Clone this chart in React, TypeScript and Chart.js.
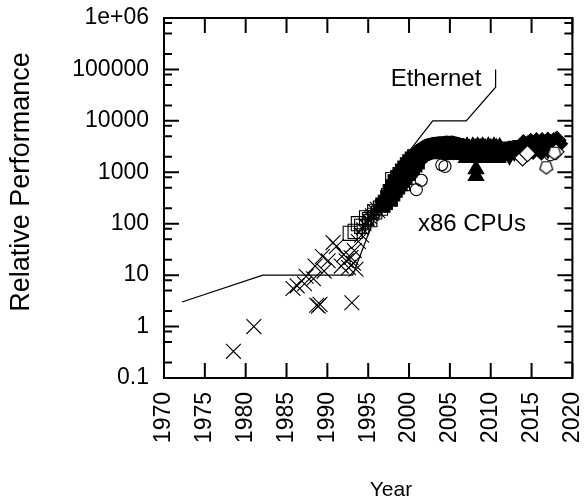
import React, { useEffect, useRef } from 'react';
import { Chart, registerables } from 'chart.js';

Chart.register(...registerables);

// ---- tick values ----
const xTickValues = [1970, 1975, 1980, 1985, 1990, 1995, 2000, 2005, 2010, 2015, 2020];
const yTickValues = [0.1, 1, 10, 100, 1000, 10000, 100000, 1000000];
const yMinorFactors = [2, 5, 8];

// ---- series (year, relative performance) ----
const crossPts: [number, number][] = [
  [1978.5, 0.33], [1981.0, 1.0], [1985.8, 5.5], [1986.3, 6.2], [1987.2, 6.8], [1987.4, 9.5],
  [1988.3, 8.5], [1988.5, 15], [1988.7, 2.6], [1988.9, 2.5], [1989.1, 2.7], [1989.4, 23],
  [1989.6, 12], [1990.1, 19], [1990.7, 43], [1991.1, 36], [1991.7, 15], [1992.0, 25],
  [1992.3, 19], [1992.6, 14], [1992.9, 22], [1993.0, 2.9], [1993.2, 17], [1993.5, 13],
  [1993.3, 30], [1993.8, 45], [1994.2, 60],
];
const openSquarePts: [number, number][] = [
  [1992.8, 65], [1993.4, 71], [1993.8, 100], [1994.2, 89], [1994.8, 130], [1995.2, 120],
  [1995.8, 170], [1996.5, 200], [1997.5, 350], [1998.0, 720], [1998.8, 780], [1999.2, 600],
];
const starPts: [number, number][] = [
  [1994.3, 80], [1994.6, 95], [1995.0, 120], [1995.3, 130], [1995.4, 150], [1995.7, 180],
  [1996.0, 200], [1996.3, 170], [1996.6, 220],
];
const filledSquarePts: [number, number][] = [
  [1996.8, 230], [1997.1, 260], [1997.4, 320], [1997.7, 300], [1997.7, 420], [1998.0, 380],
  [1998.0, 520], [1998.3, 450], [1998.3, 650], [1998.6, 520], [1998.6, 780], [1998.9, 600],
  [1998.9, 900], [1999.2, 700], [1999.2, 1050], [1999.5, 800], [1999.5, 1200], [1999.8, 950],
  [1999.8, 1400], [2000.1, 1100], [2000.1, 1600], [2000.4, 1250], [2000.4, 1800], [2000.7, 1400],
  [2000.7, 2000], [2001.0, 1600],
];
const filledCirclePts: [number, number][] = [
  [2001.0, 2300], [2001.3, 1800], [2001.3, 2600], [2001.6, 2000], [2001.6, 2800], [2001.9, 2200],
  [2001.9, 3000], [2002.2, 2300], [2002.2, 3200], [2002.5, 2400], [2002.5, 3300], [2002.8, 2500],
  [2002.8, 3400], [2003.1, 2500], [2003.1, 3500], [2003.4, 2500], [2003.4, 3500], [2003.7, 2500],
  [2003.7, 3600], [2004.0, 2500], [2004.0, 3600], [2004.3, 2400], [2004.3, 3600], [2004.6, 2500],
  [2004.6, 3700], [2004.9, 2400], [2004.9, 3600], [2005.2, 2500], [2005.2, 3700], [2005.5, 2400],
  [2005.5, 3600], [2005.8, 2500], [2005.8, 3500], [2006.1, 2400], [2006.1, 3400], [2006.4, 2400],
  [2006.4, 3300],
];
const openCirclePts: [number, number][] = [
  [1999.5, 900], [2000.9, 460], [2001.5, 700], [2004.0, 1400], [2004.4, 1300], [2017.3, 2200],
];
const trianglePts: [number, number][] = [
  [2006.7, 3000], [2006.9, 2300], [2007.0, 1900], [2007.1, 3200], [2007.4, 2900], [2007.5, 2400],
  [2007.6, 1900], [2007.8, 3200], [2008.1, 3000], [2008.1, 2400], [2008.3, 1900], [2008.4, 3200],
  [2008.7, 3000], [2008.8, 2400], [2008.9, 1900], [2009.0, 3200], [2009.3, 3000], [2009.4, 2400],
  [2009.5, 1900], [2009.7, 3200], [2010.0, 3000], [2010.1, 2400], [2010.2, 1900], [2010.4, 3200],
  [2010.7, 3000], [2010.8, 2400], [2010.9, 1900], [2011.1, 3100], [2011.3, 2500],
  [2008.2, 850], [2008.2, 1150],
];
const invTrianglePts: [number, number][] = [
  [2011.5, 2900], [2011.8, 2500], [2012.0, 3100], [2012.3, 2200], [2012.6, 3000], [2012.9, 2600],
  [2013.2, 3200], [2013.5, 2700], [2013.8, 3300], [2014.2, 2900], [2015.0, 3000], [2016.0, 3100],
  [2017.0, 2900], [2018.0, 3300],
];
const filledDiamondPts: [number, number][] = [
  [2014.0, 3600], [2014.5, 3400], [2014.9, 3800], [2015.3, 3300], [2015.6, 3900], [2016.0, 3500],
  [2016.3, 3900], [2016.7, 3400], [2017.0, 4000], [2017.4, 3500], [2017.7, 3900], [2018.1, 4200],
  [2018.3, 3600], [2015.2, 2700], [2016.2, 2600], [2017.6, 2900],
];
const openDiamondPts: [number, number][] = [
  [2013.9, 1900], [2014.5, 2300], [2018.0, 2500],
];
const pentagonPts: [number, number][] = [
  [2016.8, 1250], [2017.8, 2400],
];
const ethernetPts: [number, number][] = [
  [1972.2, 3], [1982.1, 10], [1993.1, 10], [1995.5, 100], [1998.0, 1000], [2002.9, 10000],
  [2007.0, 10000], [2010.6, 45000], [2010.6, 100000],
];

// annotation anchors in data units
const ethernetLabel = { text: 'Ethernet', x: 2003.3, y: 65000 };
const cpuLabel = { text: 'x86 CPUs', x: 2007.7, y: 96 };

const FONT = "'Liberation Sans', Arial, Helvetica, sans-serif";

const toXY = (pts: [number, number][]) => pts.map(([x, y]) => ({ x, y }));

function pentagonCanvas(size: number): HTMLCanvasElement {
  const c = document.createElement('canvas');
  c.width = size;
  c.height = size;
  const g = c.getContext('2d')!;
  const r = size / 2 - 1.2;
  g.beginPath();
  for (let i = 0; i < 5; i++) {
    const ang = Math.PI / 2 + (i * 2 * Math.PI) / 5;
    const px = size / 2 + r * Math.cos(ang);
    const py = size / 2 - r * Math.sin(ang) * -1;
    if (i === 0) g.moveTo(px, py);
    else g.lineTo(px, py);
  }
  g.closePath();
  g.fillStyle = '#fff';
  g.fill();
  g.strokeStyle = '#000';
  g.lineWidth = 1.2;
  g.stroke();
  return c;
}

const zeroPad = (s: any) => {
  s.paddingLeft = 0;
  s.paddingRight = 0;
  s.paddingTop = 0;
  s.paddingBottom = 0;
};

const framePlugin = {
  id: 'gnuFrame',
  afterDraw(chart: any) {
    const { ctx, chartArea: a, scales } = chart;
    const xs = scales.x;
    const ys = scales.y;
    ctx.save();
    ctx.strokeStyle = '#000';
    ctx.lineWidth = 2;
    ctx.beginPath();
    xTickValues.forEach((v) => {
      const px = xs.getPixelForValue(v);
      ctx.moveTo(px, a.bottom);
      ctx.lineTo(px, a.bottom - 15);
      ctx.moveTo(px, a.top);
      ctx.lineTo(px, a.top + 15);
    });
    yTickValues.forEach((v, i) => {
      const py = ys.getPixelForValue(v);
      ctx.moveTo(a.left, py);
      ctx.lineTo(a.left + 15, py);
      ctx.moveTo(a.right, py);
      ctx.lineTo(a.right - 15, py);
      if (i < yTickValues.length - 1) {
        yMinorFactors.forEach((f) => {
          const pm = ys.getPixelForValue(v * f);
          ctx.moveTo(a.left, pm);
          ctx.lineTo(a.left + 8, pm);
          ctx.moveTo(a.right, pm);
          ctx.lineTo(a.right - 8, pm);
        });
      }
    });
    ctx.stroke();
    ctx.strokeRect(a.left, a.top, a.right - a.left, a.bottom - a.top);

    ctx.fillStyle = '#000';
    ctx.textAlign = 'center';
    ctx.textBaseline = 'middle';
    ctx.font = `24px ${FONT}`;
    ctx.fillText(ethernetLabel.text, xs.getPixelForValue(ethernetLabel.x), ys.getPixelForValue(ethernetLabel.y));
    ctx.fillText(cpuLabel.text, xs.getPixelForValue(cpuLabel.x), ys.getPixelForValue(cpuLabel.y));

    // axis titles
    ctx.font = `21px ${FONT}`;
    ctx.fillText('Year', 391, 490);
    ctx.save();
    ctx.translate(22, 182);
    ctx.rotate(-Math.PI / 2);
    ctx.font = `27px ${FONT}`;
    ctx.fillText('Relative Performance', 0, 0);
    ctx.restore();
    ctx.restore();
  },
};

export default function App() {
  const ref = useRef<HTMLCanvasElement | null>(null);

  useEffect(() => {
    if (!ref.current) return;
    const pent = pentagonCanvas(16);
    const open = 'rgba(0,0,0,0)';
    const base = { borderColor: '#000', borderWidth: 1.1, pointBorderWidth: 1.1 };
    const chart = new Chart(ref.current, {
      type: 'scatter',
      data: {
        datasets: [
          { ...base, label: 'pentagon', data: toXY(pentagonPts), pointStyle: pent as any, pointRadius: 8, backgroundColor: '#fff' },
          { ...base, label: 'open diamond', data: toXY(openDiamondPts), pointStyle: 'rectRot', pointRadius: 8, backgroundColor: '#fff' },
          { ...base, label: 'open circle', data: toXY(openCirclePts), pointStyle: 'circle', pointRadius: 6, backgroundColor: open },
          { ...base, label: 'filled diamond', data: toXY(filledDiamondPts), pointStyle: 'rectRot', pointRadius: 9, backgroundColor: '#000' },
          { ...base, label: 'inv triangle', data: toXY(invTrianglePts), pointStyle: 'triangle', rotation: 180, pointRadius: 10, backgroundColor: '#000' },
          { ...base, label: 'triangle', data: toXY(trianglePts), pointStyle: 'triangle', pointRadius: 9, backgroundColor: '#000' },
          { ...base, label: 'filled circle', data: toXY(filledCirclePts), pointStyle: 'circle', pointRadius: 7, backgroundColor: '#000' },
          { ...base, label: 'filled square', data: toXY(filledSquarePts), pointStyle: 'rect', pointRadius: 10, backgroundColor: '#000' },
          { ...base, label: 'star', data: toXY(starPts), pointStyle: 'star', pointRadius: 9, backgroundColor: open },
          { ...base, label: 'open square', data: toXY(openSquarePts), pointStyle: 'rect', pointRadius: 10, backgroundColor: open },
          { ...base, label: 'cross', data: toXY(crossPts), pointStyle: 'crossRot', pointRadius: 10.5, backgroundColor: open },
          {
            label: 'Ethernet',
            data: toXY(ethernetPts),
            showLine: true,
            pointRadius: 0,
            borderColor: '#000',
            borderWidth: 1.2,
            backgroundColor: open,
          },
        ] as any,
      },
      options: {
        responsive: false,
        animation: false,
        devicePixelRatio: 1,
        layout: { padding: { left: 0, top: 18, right: 11, bottom: 0 } },
        plugins: { legend: { display: false }, tooltip: { enabled: false } },
        elements: { line: { tension: 0 } },
        scales: {
          x: {
            type: 'linear',
            min: 1970,
            max: 2020,
            grid: { display: false, drawTicks: false },
            border: { display: false },
            afterBuildTicks: (s: any) => {
              s.ticks = xTickValues.map((v) => ({ value: v }));
            },
            afterFit: (s: any) => {
              s.height = 124;
              zeroPad(s);
            },
            ticks: {
              autoSkip: false,
              minRotation: 90,
              maxRotation: 90,
              padding: 14,
              color: '#000',
              font: { family: FONT, size: 23 },
              callback: (v: any) => String(v),
            },
          },
          y: {
            type: 'logarithmic',
            min: 0.1,
            max: 1000000,
            grid: { display: false, drawTicks: false },
            border: { display: false },
            afterBuildTicks: (s: any) => {
              s.ticks = yTickValues.map((v) => ({ value: v }));
            },
            afterFit: (s: any) => {
              s.width = 164;
              zeroPad(s);
            },
            ticks: {
              autoSkip: false,
              padding: 15,
              color: '#000',
              font: { family: FONT, size: 23 },
              callback: (v: any) => (Number(v) === 1000000 ? '1e+06' : String(Number(v))),
            },
          },
        },
      } as any,
      plugins: [framePlugin],
    });
    return () => chart.destroy();
  }, []);

  return (
    <div style={{ position: 'absolute', left: 0, top: 0, width: 584, height: 502, background: '#fff' }}>
      <canvas ref={ref} width={584} height={502} />
    </div>
  );
}
